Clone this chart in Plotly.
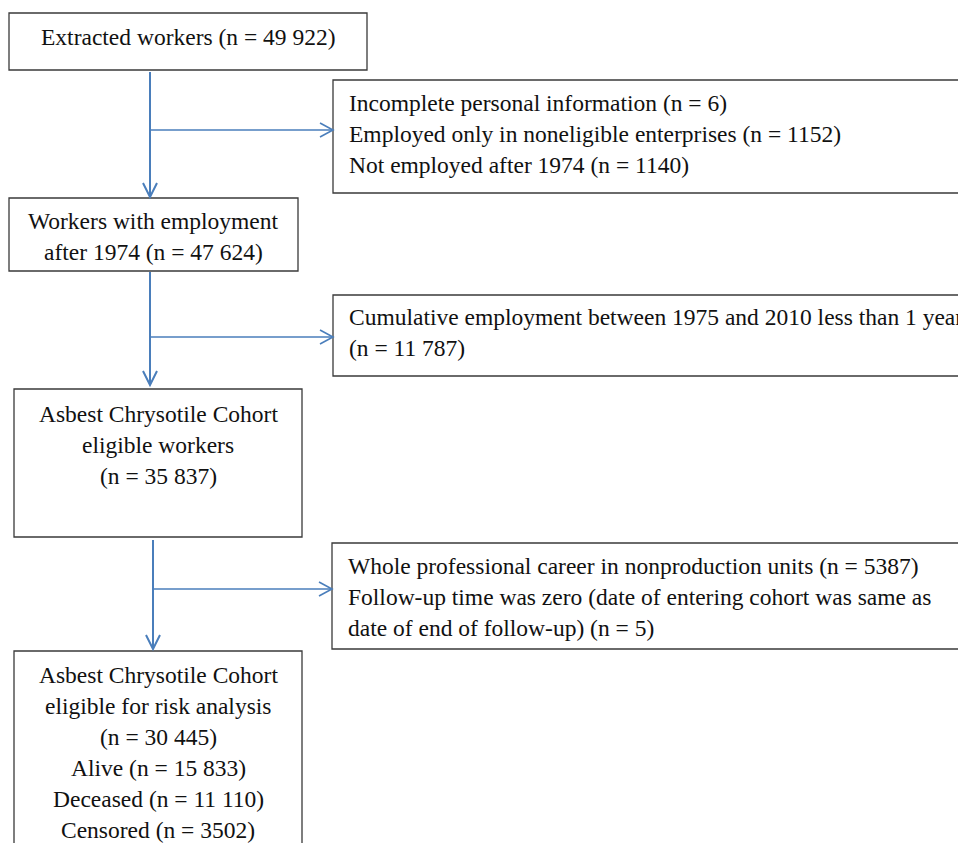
import plotly.graph_objects as go

# ---- content ----
main_texts = [
    ["Extracted workers (n = 49 922)"],
    ["Workers with employment", "after 1974 (n = 47 624)"],
    ["Asbest Chrysotile Cohort", "eligible workers", "(n = 35 837)"],
    ["Asbest Chrysotile Cohort", "eligible for risk analysis", "(n = 30 445)",
     "Alive (n = 15 833)", "Deceased (n = 11 110)", "Censored (n = 3502)"],
]
excl_texts = [
    ["Incomplete personal information (n = 6)",
     "Employed only in noneligible enterprises (n = 1152)",
     "Not employed after 1974 (n = 1140)"],
    ["Cumulative employment between 1975 and 2010 less than 1 year",
     "(n = 11 787)"],
    ["Whole professional career in nonproduction units (n = 5387)",
     "Follow-up time was zero (date of entering cohort was same as",
     "date of end of follow-up) (n = 5)"],
]

# ---- layout geometry (pixels) ----
W, H = 958, 843
main_boxes = [(9, 13, 367, 70), (9, 198, 298, 271), (14, 389, 302, 537), (14, 651, 302, 870)]
main_first_line = [37, 221, 414, 675]
excl_boxes = [(333, 80, 990, 193), (333, 295, 990, 376), (332, 543, 990, 649)]
excl_first_line = [103, 317, 566]
line_gap = 31
flows = [  # x, y_start, y_tip, y_branch
    (150, 72, 197, 130),
    (150, 272, 385, 337),
    (153, 540, 649, 589),
]

BORDER = "#3a3a3a"
BLUE = "#4a7ebb"
FONT = dict(family="Liberation Serif, Times New Roman, serif", size=23.5, color="#111111")

shapes = []
annotations = []

for (x0, y0, x1, y1) in main_boxes + excl_boxes:
    shapes.append(dict(type="rect", xref="x", yref="y", x0=x0, y0=y0, x1=x1, y1=y1,
                       line=dict(color=BORDER, width=1.3), fillcolor="rgba(0,0,0,0)"))

for (x0, y0, x1, y1), ystart, lines in zip(main_boxes, main_first_line, main_texts):
    cx = (x0 + x1) / 2
    for i, t in enumerate(lines):
        annotations.append(dict(x=cx, y=ystart + i * line_gap, xref="x", yref="y", text=t,
                                showarrow=False, font=FONT, xanchor="center", yanchor="middle"))

for (x0, y0, x1, y1), ystart, lines in zip(excl_boxes, excl_first_line, excl_texts):
    for i, t in enumerate(lines):
        annotations.append(dict(x=x0 + 14, y=ystart + i * line_gap, xref="x", yref="y", text=t,
                                showarrow=False, font=FONT, xanchor="left", yanchor="middle"))

for (x, ys, yt, yb), (ex0, _, _, _) in zip(flows, excl_boxes):
    shapes.append(dict(type="line", xref="x", yref="y", x0=x, y0=ys, x1=x, y1=yt,
                       line=dict(color=BLUE, width=2)))
    shapes.append(dict(type="path", xref="x", yref="y",
                       path=f"M {x-7},{yt-14} L {x},{yt} L {x+7},{yt-14}",
                       line=dict(color=BLUE, width=2)))
    shapes.append(dict(type="line", xref="x", yref="y", x0=x, y0=yb, x1=ex0, y1=yb,
                       line=dict(color=BLUE, width=1.6)))
    shapes.append(dict(type="path", xref="x", yref="y",
                       path=f"M {ex0-13},{yb-7} L {ex0},{yb} L {ex0-13},{yb+7}",
                       line=dict(color=BLUE, width=1.6)))

fig = go.Figure()
fig.update_layout(
    width=W, height=H,
    margin=dict(l=0, r=0, t=0, b=0),
    paper_bgcolor="white", plot_bgcolor="white",
    xaxis=dict(range=[0, W], visible=False, fixedrange=True),
    yaxis=dict(range=[H, 0], visible=False, fixedrange=True),
    shapes=shapes, annotations=annotations, showlegend=False,
)
fig.write_html("out.html", config={"displayModeBar": False},
               post_script="document.body.style.margin='0';document.body.style.overflow='hidden';")
